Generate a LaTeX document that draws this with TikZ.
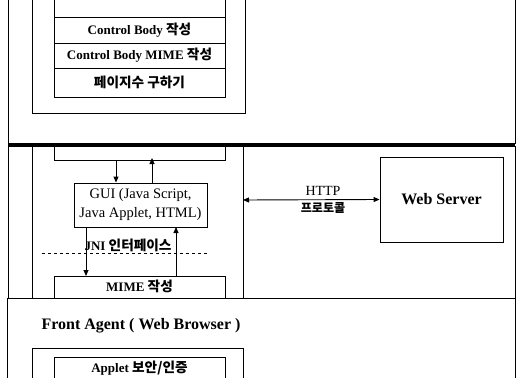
\documentclass[tikz,border=0pt]{standalone}
\usepackage{fontspec}
\setmainfont{Liberation Serif}
\newfontfamily\kr{Noto Sans CJK KR}[Scale=1.05]
\usetikzlibrary{arrows.meta}
\newcommand\K[1]{{\kr #1}}
\begin{document}
\begin{tikzpicture}[x=1pt,y=-1pt,
  ln/.style={line width=0.9pt},
  tfont/.style={font=\fontsize{13}{15}\selectfont\bfseries},
  rowbox/.style={draw,line width=0.9pt,minimum width=171pt,inner sep=0pt,tfont},
  arr/.style={line width=0.9pt,-{Triangle[length=6pt,width=5pt]}},
  darr/.style={line width=0.9pt,{Triangle[length=6pt,width=5pt]}-{Triangle[length=6pt,width=5pt]}},
  lbl/.style={inner sep=0pt}]
\useasboundingbox (0,0) rectangle (516,377);
\clip (0,0) rectangle (516,377);
% ---------- top section ----------
\draw[ln] (8,-10) rectangle (515,143);
\draw[ln] (32,-10) rectangle (245,113);
\draw[ln] (54,-10) rectangle (225,17);
\node[rowbox,minimum height=26pt] (r1) at (139.5,30) {Control Body \K{작성}};
\node[rowbox,minimum height=25pt] (r2) at (139.5,55.5) {Control Body MIME \K{작성}};
\node[rowbox,minimum height=29pt] (r3) at (139.5,82.5) {\K{페이지수 구하기}};
% thick separator
\draw[line width=3.5pt] (8,145) -- (515,145);
% ---------- middle section ----------
\draw[ln] (8,146) rectangle (515,298);
\draw[ln] (32,146) -- (32,298);
\draw[ln] (243,146) -- (243,298);
\draw[ln] (54,147) -- (54,160) -- (225,160) -- (225,147);
\node[draw,line width=0.9pt,minimum width=133pt,minimum height=44pt,align=center,
  inner sep=1pt,font=\fontsize{14.5}{19}\selectfont] (gui) at (140.5,205) {GUI (Java Script,\\Java Applet, HTML)};
\coordinate (bd) at (116,160);
\coordinate (bu) at (152,158);
\draw[arr] (bd) -- (bd |- gui.north);
\draw[arr] (bu |- gui.north) -- (bu);
\node[draw,line width=0.9pt,minimum width=171pt,minimum height=30pt,anchor=north] (mime) at (139.5,276) {};
\node[lbl,tfont] (mimet) at (139.5,286) {MIME \K{작성}};
\coordinate (jl) at (86,227);
\coordinate (jr) at (176,227);
\draw[arr] (jl) -- (jl |- mime.north);
\draw[arr] (jr |- mime.north) -- (jr);
\node[lbl,tfont] (jni) at (128,245) {JNI \K{인터페이스}};
\coordinate (dl) at (42,253);
\coordinate (dr) at (208,253);
\draw[line width=0.9pt,dash pattern=on 3pt off 3pt] (dl) -- (dr);
\node[draw,line width=0.9pt,minimum width=123pt,minimum height=85pt,
  font=\fontsize{16}{18}\selectfont\bfseries] (ws) at (441.5,199.5) {Web Server};
\coordinate (hl) at (243,200);
\draw[darr] (hl) -- (ws.west);
\node[lbl,font=\fontsize{14}{16}\selectfont] (http) at (323,191) {HTTP};
\node[lbl,font=\fontsize{11.5}{13}\selectfont\bfseries\kr] (proto) at (323,208) {프로토콜};
% ---------- bottom section ----------
\draw[ln,fill=white] (7,298) rectangle (515,400);
\node[lbl,font=\fontsize{16}{18}\selectfont\bfseries] (fa) at (141,326) {Front Agent ( Web Browser )};
\draw[ln] (32,348) rectangle (243,400);
\draw[ln] (54,357) rectangle (225,400);
\node[lbl,tfont] (ap) at (139.5,368) {Applet \K{보안/인증}};
\end{tikzpicture}
\end{document}
